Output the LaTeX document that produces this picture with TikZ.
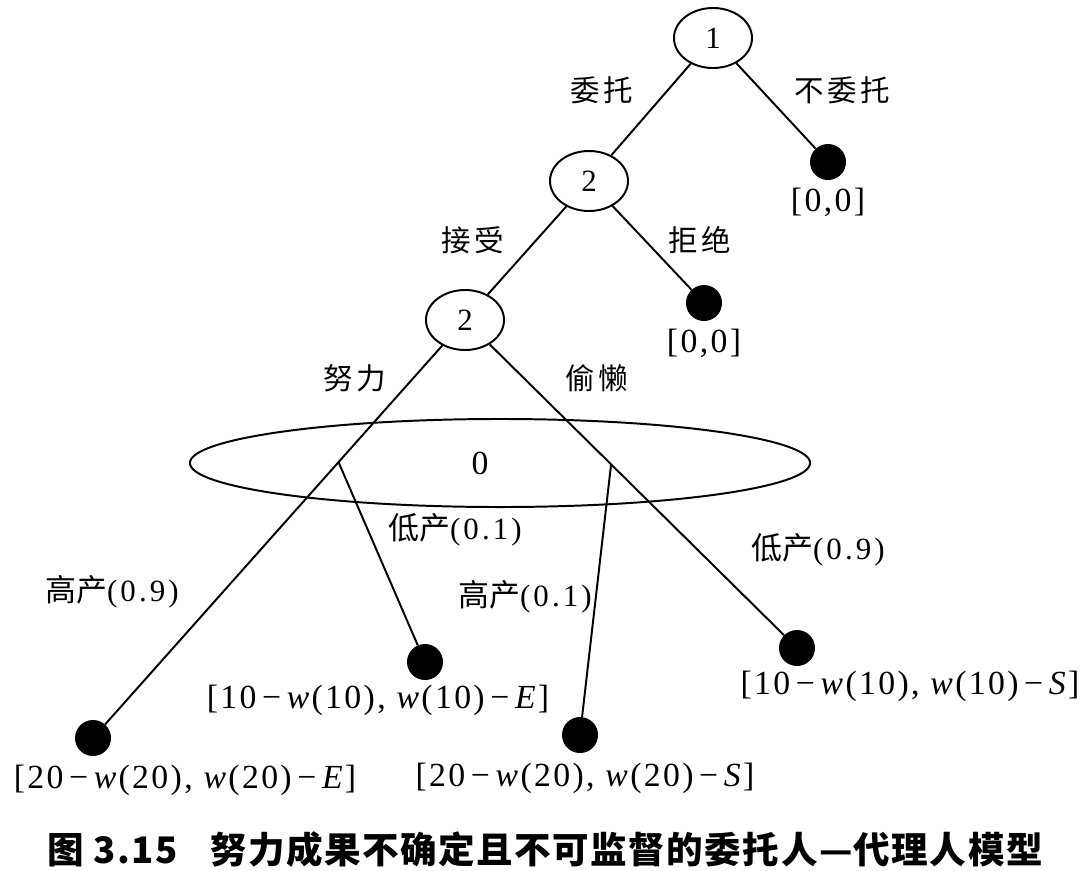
\documentclass[tikz,border=0pt]{standalone}
\usepackage{fontspec}
\setmainfont{Liberation Serif}
\newfontfamily\cjk{Noto Sans CJK SC}
\usepackage{tikz}
\usetikzlibrary{shapes.geometric,calc,positioning}
\tikzset{
  % player nodes and end points of the game tree
  dec/.style    = {ellipse, draw, line width=1.4pt, inner sep=0pt, minimum width=1.95cm,
                   minimum height=1.5cm, font=\fontsize{22}{26}\selectfont},
  leaf/.style   = {circle, fill=black, inner sep=0pt, minimum size=0.9cm},
  pay/.style    = {inner sep=0pt, font=\fontsize{24}{28}\selectfont\addfontfeatures{LetterSpace=7}},
  act/.style    = {inner sep=0pt, font=\cjk\fontsize{21}{25}\selectfont\addfontfeatures{LetterSpace=12}},
  chance/.style = {inner sep=0pt, font=\fontsize{22}{26}\selectfont\addfontfeatures{LetterSpace=10}},
  branch/.style = {line width=1.4pt},
}
\newcommand{\wm}{\textit{w}}

\begin{document}
\begin{tikzpicture}[x=0.025cm, y=-0.025cm]
\useasboundingbox (0,0) rectangle (1084,870);
% players
\node[dec] (n1) at (713,38)  {1};
\node[dec] (n2) at (589,181) {2};
\node[dec] (n3) at (465,320) {2};
% nature, one information set
\node[ellipse, draw, line width=1.4pt, minimum width=15.5cm, minimum height=2.2cm] (nat) at (500,463) {};
\node[pay] (zero) at (480,463) {0};
% end points
\node[leaf] (t1)  at (828,162) {};
\node[leaf] (t2)  at (704,303) {};
\node[leaf] (lfA) at (93,738)  {};
\node[leaf] (lfB) at (425,662) {};
\node[leaf] (lfC) at (580,735) {};
\node[leaf] (lfD) at (797,648) {};
\coordinate (e1) at ($(n3)!0.34!(lfA)$);
\coordinate (s1) at ($(n3)!0.44!(lfD)$);
% branches
\draw[branch] (n1) -- (n2);
\draw[branch] (n1) -- (t1);
\draw[branch] (n2) -- (n3);
\draw[branch] (n2) -- (t2);
\draw[branch] (n3) -- (lfA);
\draw[branch] (n3) -- (lfD);
\draw[branch] (e1) -- (lfB);
\draw[branch] (s1) -- (lfC);
% actions
\node[act] (a1) at (602,90)  {委托};
\node[act] (a2) at (842,90)  {不委托};
\node[act] (a3) at (473,240) {接受};
\node[act] (a4) at (700,240) {拒绝};
\node[act] (a5) at (355,378) {努力};
\node[act] (a6) at (597,378) {偷懒};
\node[chance] (p1) at (112,592) {{\cjk 高产}(0.9)};
\node[chance] (p2) at (455,530) {{\cjk 低产}(0.1)};
\node[chance] (p3) at (525,597) {{\cjk 高产}(0.1)};
\node[chance] (p4) at (818,550) {{\cjk 低产}(0.9)};
% payoffs
\node[pay, below=2mm of t1] (u1) {[0,0]};
\node[pay, below=2mm of t2] (u2) {[0,0]};
\node[pay] (uA) at (185,780) {[20\,−\,\wm(20), \wm(20)\,−\,\textit{E}]};
\node[pay] (uB) at (378,700) {[10\,−\,\wm(10), \wm(10)\,−\,\textit{E}]};
\node[pay] (uC) at (585,778) {[20\,−\,\wm(20), \wm(20)\,−\,\textit{S}]};
\node[pay] (uD) at (910,686) {[10\,−\,\wm(10), \wm(10)\,−\,\textit{S}]};
% caption
\node[inner sep=0pt, font=\cjk\bfseries\fontsize{26}{30}\selectfont\addfontfeatures{LetterSpace=4}] (cap) at (545,850)
  {图 3.15\hspace{0.9em}努力成果不确定且不可监督的委托人—代理人模型};
\end{tikzpicture}
\end{document}
